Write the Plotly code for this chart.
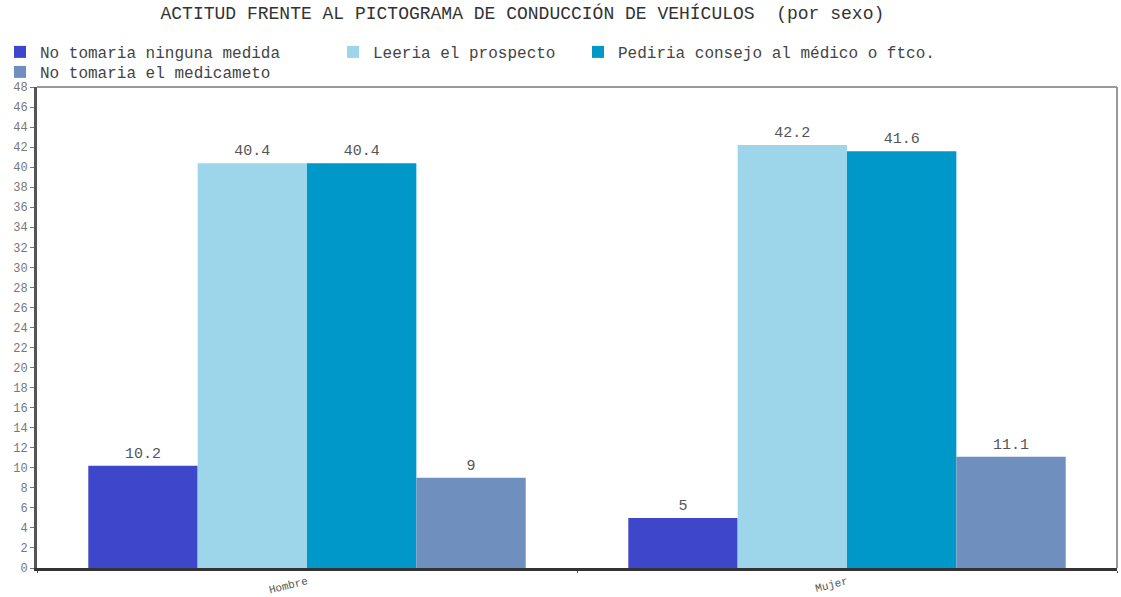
import plotly.graph_objects as go

categories = ["Hombre", "Mujer"]
series_names = [
    "No tomaria ninguna medida",
    "Leeria el prospecto",
    "Pediria consejo al médico o ftco.",
    "No tomaria el medicameto",
]
ninguna_medida = [10.2, 5]
leeria_prospecto = [40.4, 42.2]
pediria_consejo = [40.4, 41.6]
no_medicamento = [9, 11.1]
value_labels = [["10.2", "5"], ["40.4", "42.2"], ["40.4", "41.6"], ["9", "11.1"]]
y_ticks = list(range(0, 49, 2))

colors = ["#3e47c9", "#9dd6ea", "#0097c9", "#6f8fbf"]
series_values = [ninguna_medida, leeria_prospecto, pediria_consejo, no_medicamento]

mono = "Liberation Mono, Courier New, monospace"
W, H = 1121, 597

# one legend box per series so the entries sit on two rows (3 + 1)
legend_ids = ["legend", "legend2", "legend3", "legend4"]
legend_pos = [(-3, 35), (333, 35), (578, 35), (-3, 55)]

fig = go.Figure()
for name, vals, labels, col, lid in zip(series_names, series_values, value_labels, colors, legend_ids):
    fig.add_trace(go.Bar(
        x=categories, y=vals, name=name, legend=lid,
        marker=dict(color=col, line=dict(width=0)),
        text=labels, textposition="outside", cliponaxis=False,
        textfont=dict(family=mono, size=15, color="#555555"),
    ))

legend_layout = {}
for lid, (px, py) in zip(legend_ids, legend_pos):
    legend_layout[lid] = dict(
        orientation="h", x=px / W, xref="container", xanchor="left",
        y=1 - py / H, yref="container", yanchor="top",
        font=dict(family=mono, size=16, color="#444444"),
        itemwidth=30, tracegroupgap=0, bgcolor="rgba(0,0,0,0)",
    )

fig.update_layout(
    width=W, height=H,
    margin=dict(l=37, r=4, t=87, b=29, autoexpand=False),
    paper_bgcolor="white", plot_bgcolor="white",
    barmode="group", bargap=0.19, bargroupgap=0,
    title=dict(
        text="ACTITUD FRENTE AL PICTOGRAMA DE CONDUCCIÓN DE VEHÍCULOS  (por sexo)",
        x=0.466, xanchor="center", y=0.978, yanchor="middle",
        font=dict(family=mono, size=18, color="#333333"),
    ),
    showlegend=True,
    **legend_layout,
)

fig.update_yaxes(
    range=[0, 48], tickvals=y_ticks, ticktext=[str(v) for v in y_ticks],
    ticks="outside", ticklen=4, tickcolor="#777777",
    tickfont=dict(family=mono, size=12, color="#777777"),
    showline=True, linecolor="#555555", linewidth=3,
    mirror=False, showgrid=False, zeroline=False, automargin=False,
)
fig.update_xaxes(
    showline=True, linecolor="#333333", linewidth=3,
    ticks="outside", tickson="boundaries", ticklen=2, tickcolor="#555555",
    tickangle=-14,
    tickfont=dict(family=mono, size=11, color="#555555"),
    showgrid=False, automargin=False,
)
# light frame along the top and right edges of the plotting area
fig.add_shape(type="line", xref="paper", yref="paper", x0=0, x1=1, y0=1, y1=1,
              line=dict(color="#999999", width=2))
fig.add_shape(type="line", xref="paper", yref="paper", x0=1, x1=1, y0=0, y1=1,
              line=dict(color="#999999", width=2))

fig.write_html("out.html")
